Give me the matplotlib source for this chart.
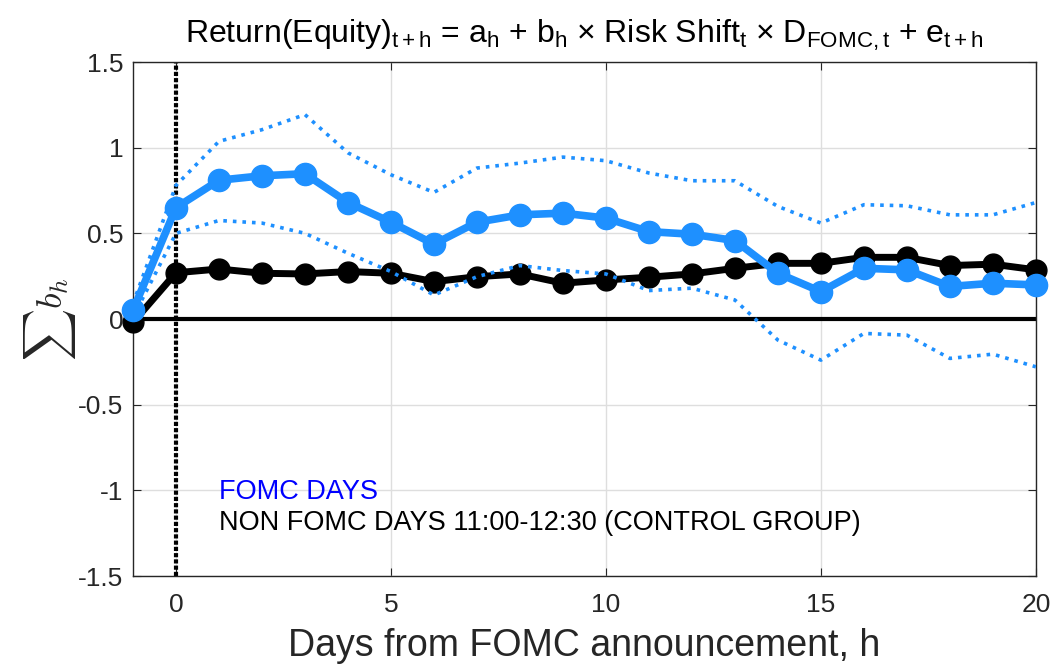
import numpy as np
import matplotlib
matplotlib.use("Agg")
import matplotlib.pyplot as plt
from matplotlib import font_manager

# pick a narrow Helvetica-like face if there is one
names = set(f.name for f in font_manager.fontManager.ttflist)
fam = 'Liberation Sans Narrow' if 'Liberation Sans Narrow' in names else 'Liberation Sans'
plt.rcParams['font.family'] = [fam, 'DejaVu Sans']
plt.rcParams['mathtext.fontset'] = 'custom'
plt.rcParams['mathtext.rm'] = fam
plt.rcParams['mathtext.it'] = fam

h = np.arange(-1, 21)

fomc = [0.05, 0.65, 0.81, 0.836, 0.848, 0.68, 0.565, 0.437, 0.565, 0.608, 0.618,
        0.589, 0.51, 0.495, 0.458, 0.267, 0.16, 0.296, 0.287, 0.19, 0.209, 0.199]
fomc_hi = [0.09, 0.78, 1.037, 1.105, 1.193, 0.97, 0.842, 0.739, 0.881, 0.91, 0.945,
           0.924, 0.852, 0.807, 0.807, 0.657, 0.56, 0.667, 0.661, 0.608, 0.608, 0.68]
fomc_lo = [0.01, 0.50, 0.575, 0.56, 0.50, 0.384, 0.277, 0.14, 0.247, 0.312, 0.283,
           0.263, 0.166, 0.18, 0.111, -0.123, -0.24, -0.084, -0.094, -0.23, -0.205, -0.279]
control = [-0.02, 0.27, 0.292, 0.267, 0.263, 0.277, 0.267, 0.218, 0.247, 0.263, 0.209,
           0.228, 0.244, 0.263, 0.296, 0.325, 0.325, 0.36, 0.36, 0.312, 0.32, 0.287]

yticks = [-1.5, -1, -0.5, 0, 0.5, 1, 1.5]
ytick_labels = ['-1.5', '-1', '-0.5', '0', '0.5', '1', '1.5']
xticks = [0, 5, 10, 15, 20]

blue = '#1e90ff'

fig = plt.figure(figsize=(10.57, 6.69), dpi=100)
ax = fig.add_axes([0.1258, 0.139, 0.8542, 0.7683])

ax.grid(True, color='#dedede', linewidth=1)
ax.set_axisbelow(True)

ax.axhline(0, color='black', linewidth=3, zorder=2)
ax.axvline(0, color='black', linewidth=3, linestyle=(0, (1, 0.5)), zorder=2)

ax.plot(h, control, '-o', color='black', linewidth=5, markersize=15, clip_on=False, zorder=3)
ax.plot(h, fomc, '-o', color=blue, linewidth=5.5, markersize=16, clip_on=False, zorder=4)
ax.plot(h, fomc_hi, ':', color=blue, linewidth=2.6, zorder=5)
ax.plot(h, fomc_lo, ':', color=blue, linewidth=2.6, zorder=5)

ax.set_xlim(-1, 20)
ax.set_ylim(-1.5, 1.5)
ax.set_xticks(xticks)
ax.set_yticks(yticks)
ax.set_yticklabels(ytick_labels)
ax.tick_params(direction='in', length=6, top=True, right=True, labelsize=19,
               labelcolor='#262626', color='#262626', pad=7)
ax.tick_params(axis='x', pad=12)
for s in ax.spines.values():
    s.set_color('#262626')
    s.set_linewidth(1)

ax.text(1.0, -1.01, 'FOMC DAYS', color='blue', fontsize=19.5, va='center')
ax.text(1.0, -1.19, 'NON FOMC DAYS 11:00-12:30 (CONTROL GROUP)', color='black',
        fontsize=19.5, va='center')

ax.set_title(r'Return(Equity)$_{\mathrm{t+h}}$ = a$_{\mathrm{h}}$ + b$_{\mathrm{h}}$ $\times$ '
             r'Risk Shift$_{\mathrm{t}}$ $\times$ D$_{\mathrm{FOMC,t}}$ + e$_{\mathrm{t+h}}$',
             fontsize=23, pad=14)
ax.set_xlabel('Days from FOMC announcement, h', fontsize=27, color='#262626', labelpad=8)
ax.set_ylabel(r'$\sum b_h$', fontsize=26, color='#262626', math_fontfamily='cm', labelpad=0)

plt.savefig('out.png', dpi=100)
